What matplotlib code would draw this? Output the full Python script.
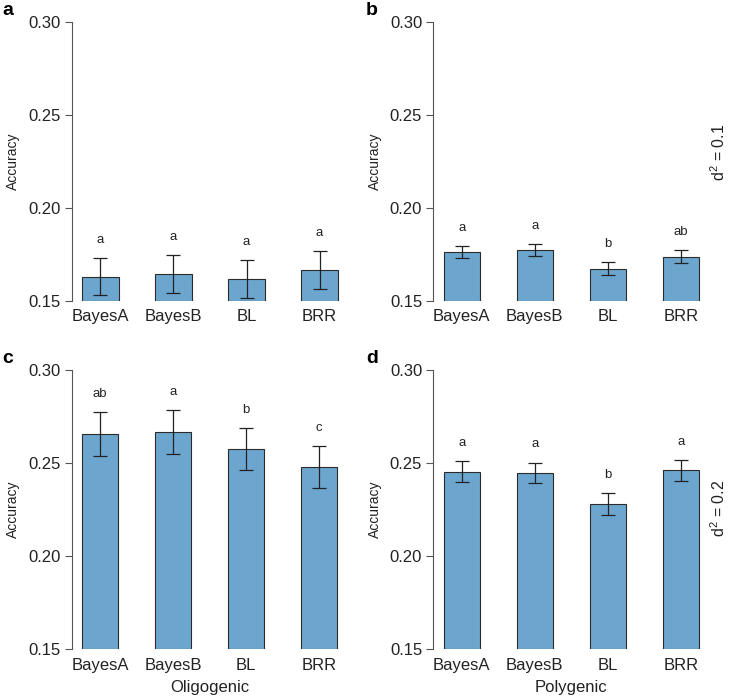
import matplotlib
matplotlib.use("Agg")
import matplotlib.pyplot as plt
import numpy as np

plt.rcParams['font.family'] = ['Liberation Sans', 'DejaVu Sans']

# data
methods = ['BayesA', 'BayesB', 'BL', 'BRR']

acc_a = [0.163, 0.1645, 0.1617, 0.1667]
err_a = [0.0101, 0.0102, 0.0102, 0.0102]
let_a = ['a', 'a', 'a', 'a']

acc_b = [0.1762, 0.1771, 0.1673, 0.1736]
err_b = [0.0032, 0.0033, 0.0035, 0.0035]
let_b = ['a', 'a', 'b', 'ab']

acc_c = [0.2656, 0.2667, 0.2576, 0.2479]
err_c = [0.0120, 0.0117, 0.0114, 0.0112]
let_c = ['ab', 'a', 'b', 'c']

acc_d = [0.2454, 0.2448, 0.2280, 0.2461]
err_d = [0.0058, 0.0055, 0.0058, 0.0058]
let_d = ['a', 'a', 'b', 'a']

panels = [
    ('a', acc_a, err_a, let_a, None, None),
    ('b', acc_b, err_b, let_b, None, '$\\mathregular{d^2}$ = 0.1'),
    ('c', acc_c, err_c, let_c, 'Oligogenic', None),
    ('d', acc_d, err_d, let_d, 'Polygenic', '$\\mathregular{d^2}$ = 0.2'),
]

W, H = 729, 700
fig = plt.figure(figsize=(W / 100, H / 100), dpi=100)

# axes boxes in pixels: (left, top, right, bottom)
boxes = {
    'a': (72, 21.7, 348, 300.7),
    'b': (433.3, 21.7, 709.3, 300.7),
    'c': (71.7, 370, 347.7, 649.3),
    'd': (433.3, 370, 709.3, 649.3),
}
side_y = {'b': 0.533, 'd': 0.506}

bar_color = '#6ca6cf'
x = np.arange(len(methods)) * 2 + 1.5

for name, acc, err, lets, xlab, side in panels:
    l, t, r, b = boxes[name]
    ax = fig.add_axes([l / W, 1 - b / H, (r - l) / W, (b - t) / H])
    ax.bar(x, np.array(acc) - 0.15, width=1, bottom=0.15, color=bar_color,
           edgecolor='#2b2b2b', linewidth=0.8, zorder=2)
    ax.errorbar(x, acc, yerr=err, fmt='none', ecolor='#222222', elinewidth=0.9,
                capsize=5, capthick=0.9, zorder=3)
    for xi, a, e, s in zip(x, acc, err, lets):
        ax.annotate(s, (xi, a + e), xytext=(0, 13), textcoords='offset points',
                    ha='center', va='center', fontsize=9.5, color='#222222')
    ax.set_xlim(0.72, 8.28)
    ax.set_ylim(0.15, 0.30)
    ax.set_yticks([0.15, 0.20, 0.25, 0.30])
    ax.set_yticklabels(['0.15', '0.20', '0.25', '0.30'])
    ax.set_xticks(x)
    ax.set_xticklabels(methods)
    ax.tick_params(axis='x', length=0, pad=6, labelsize=12, colors='#222222')
    ax.tick_params(axis='y', length=5, width=0.8, pad=3, labelsize=12,
                   colors='#555555', labelcolor='#222222')
    for sp in ['top', 'right', 'bottom']:
        ax.spines[sp].set_visible(False)
    ax.spines['left'].set_color('#555555')
    ax.spines['left'].set_linewidth(0.8)
    ax.set_ylabel('Accuracy', fontsize=10, color='#222222', labelpad=6)
    if xlab:
        ax.set_xlabel(xlab, fontsize=12, color='#222222', labelpad=5)
    if side:
        ax.text(1.035, side_y[name], side, transform=ax.transAxes, rotation=90,
                ha='center', va='center', fontsize=11.5, color='#222222')
    px = 2 if name in 'ac' else 366
    fig.text(px / W, 1 - (t - 20) / H, name, fontsize=14, fontweight='bold',
             ha='left', va='top')

fig.savefig('out.png', dpi=100)
